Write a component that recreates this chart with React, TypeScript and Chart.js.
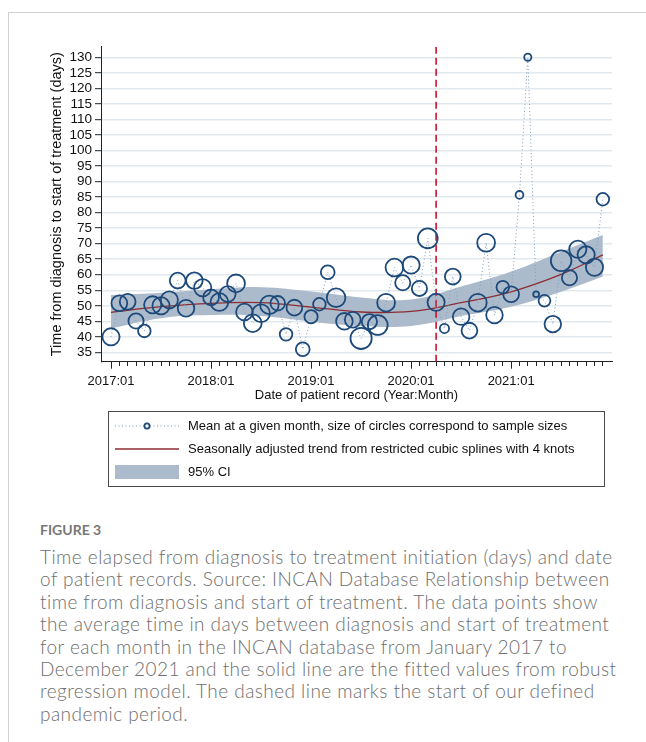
import React, { useEffect, useRef } from 'react';
import { Chart, registerables } from 'chart.js';
Chart.register(...registerables);

// Monthly means (days), Jan 2017 .. Dec 2021, index 0..59
const meanDays = [
  40.0, 50.8, 51.3, 45.1, 41.9, 50.3, 50.0, 51.9, 58.1, 49.2,
  58.1, 55.8, 52.7, 51.2, 53.8, 57.2, 48.0, 44.4, 47.6, 50.3,
  50.8, 40.8, 49.4, 36.0, 46.5, 50.5, 60.8, 52.6, 45.0, 45.5,
  39.5, 44.9, 43.8, 51.0, 62.3, 57.4, 63.1, 55.6, 71.7, 51.1,
  42.7, 59.4, 46.5, 42.0, 51.0, 70.3, 47.0, 56.0, 53.7, 85.7,
  130.0, 53.7, 51.6, 44.1, 64.5, 59.0, 68.2, 66.4, 62.4, 84.3,
];
// Relative circle size (sample size)
const sampleSize = [
  9.0, 8.3, 8.3, 8.0, 6.7, 9.0, 9.0, 9.0, 8.3, 8.7,
  8.7, 9.0, 8.3, 9.3, 8.3, 9.3, 8.7, 9.3, 9.3, 9.7,
  7.7, 6.7, 8.3, 7.3, 7.0, 6.7, 7.3, 9.7, 8.7, 8.3,
  11.0, 8.0, 10.3, 9.3, 9.3, 8.0, 9.0, 8.0, 10.3, 9.0,
  5.0, 8.3, 8.7, 8.3, 9.3, 9.3, 8.7, 6.7, 8.3, 4.3,
  4.0, 3.3, 6.3, 8.7, 10.7, 8.0, 9.0, 9.0, 9.0, 6.7,
];
const trendMonths = [0, 6, 12, 18, 24, 30, 36, 42, 48, 54, 59];
const trendDays = [47.9, 49.7, 50.8, 51.0, 49.6, 48.0, 48.2, 51.0, 54.5, 60.1, 66.4];
const ciUpper = [53.5, 54.2, 55.3, 56.0, 54.6, 52.7, 52.0, 56.2, 61.0, 67.4, 72.8];
const ciLower = [42.7, 46.0, 47.0, 46.7, 44.9, 43.5, 43.5, 46.7, 49.7, 54.5, 59.4];
const pandemicStartMonth = 39;
const majorTickMonths = [0, 12, 24, 36, 48];
const majorTickLabels = ['2017:01', '2018:01', '2019:01', '2020:01', '2021:01'];
const yTickValues = [35, 40, 45, 50, 55, 60, 65, 70, 75, 80, 85, 90, 95, 100, 105, 110, 115, 120, 125, 130];

const FONT = '"Liberation Sans", Arial, sans-serif';
const NAVY = '#1d4a7a';
const DOT = '#7f9dbf';
const MAROON = '#8c2d33';
const BAND = 'rgb(172,187,203)';
const RED = '#c8102e';
const Y_MIN = 32;
const Y_MAX = 133.4;

export default function App() {
  const ref = useRef<HTMLCanvasElement>(null);
  useEffect(() => {
    if (!ref.current) return;
    const chart = new Chart(ref.current, {
      type: 'line',
      data: {
        datasets: [
          {
            label: 'ci upper',
            data: trendMonths.map((m, i) => ({ x: m, y: ciUpper[i] })),
            borderWidth: 0, borderColor: 'rgba(0,0,0,0)', pointRadius: 0,
            fill: '+1', backgroundColor: BAND, tension: 0.4, order: 10,
            xAxisID: 'x', yAxisID: 'y',
          },
          {
            label: 'ci lower',
            data: trendMonths.map((m, i) => ({ x: m, y: ciLower[i] })),
            borderWidth: 0, borderColor: 'rgba(0,0,0,0)', pointRadius: 0,
            fill: false, tension: 0.4, order: 10,
            xAxisID: 'x', yAxisID: 'y',
          },
          {
            label: 'trend',
            data: trendMonths.map((m, i) => ({ x: m, y: trendDays[i] })),
            borderWidth: 1.3, borderColor: MAROON, pointRadius: 0,
            fill: false, tension: 0.4, order: 4,
            xAxisID: 'x', yAxisID: 'y',
          },
          {
            label: 'pandemic',
            data: [{ x: pandemicStartMonth, y: Y_MIN }, { x: pandemicStartMonth, y: Y_MAX }],
            borderWidth: 1.6, borderColor: RED, borderDash: [7, 4], pointRadius: 0,
            fill: false, order: 3,
            xAxisID: 'x', yAxisID: 'y',
          },
          {
            label: 'means',
            data: meanDays.map((v, i) => ({ x: i, y: v })),
            borderWidth: 1, borderColor: DOT, borderDash: [1, 2.5],
            pointRadius: sampleSize.map((s) => s - 0.4),
            pointBorderColor: NAVY, pointBorderWidth: 1.8,
            pointBackgroundColor: 'rgba(0,0,0,0)',
            fill: false, tension: 0, order: 1,
            xAxisID: 'x', yAxisID: 'y',
          },
        ],
      },
      options: {
        animation: false,
        responsive: false,
        layout: { padding: { top: 46.7, left: 44, right: 34, bottom: 0 } },
        plugins: { legend: { display: false }, tooltip: { enabled: false }, title: { display: false } },
        scales: {
          x: {
            type: 'linear', position: 'bottom', min: -1.2, max: 60.1,
            afterBuildTicks: (s: any) => { s.ticks = majorTickMonths.map((v) => ({ value: v })); },
            afterFit: (s: any) => { s.height = 38.3; },
            ticks: {
              callback: (v: any) => { const k = majorTickMonths.indexOf(Number(v)); return k >= 0 ? majorTickLabels[k] : ''; },
              font: { family: FONT, size: 13 }, color: '#111', padding: 5, maxRotation: 0, autoSkip: false,
            },
            grid: { drawOnChartArea: false, tickLength: 7, tickColor: '#222', tickWidth: 1 },
            border: { color: '#222', width: 1 },
          },
          xMinor: {
            type: 'linear', axis: 'x', position: { y: Y_MIN }, min: -1.2, max: 60.1,
            afterBuildTicks: (s: any) => { s.ticks = meanDays.map((_, i) => ({ value: i })); },
            ticks: { display: false },
            grid: { drawOnChartArea: false, tickLength: 4, tickColor: '#222', tickWidth: 1 },
            border: { display: false },
          },
          y: {
            type: 'linear', min: Y_MIN, max: Y_MAX,
            afterBuildTicks: (s: any) => { s.ticks = yTickValues.map((v) => ({ value: v })); },
            afterFit: (s: any) => { s.width = 57; },
            ticks: { font: { family: FONT, size: 13.5 }, color: '#111', padding: 3, autoSkip: false },
            grid: { color: '#e1e9ee', lineWidth: 1.4, tickLength: 6, tickColor: '#222', tickWidth: 1 },
            border: { color: '#222', width: 1 },
            title: {
              display: true, text: 'Time from diagnosis to start of treatment (days)',
              font: { family: FONT, size: 14.5 }, color: '#111', padding: { top: 4, bottom: 0 },
            },
          },
        } as any,
      },
    } as any);
    return () => chart.destroy();
  }, []);

  const legendRow = (top: number): React.CSSProperties => ({
    position: 'absolute', left: 0, top, height: 16, width: '100%',
  });
  const legendText: React.CSSProperties = {
    position: 'absolute', left: 79, top: 0, lineHeight: '16px', fontSize: 13, fontFamily: FONT, color: '#111', whiteSpace: 'nowrap',
  };

  return (
    <div style={{ position: 'relative', width: 646, height: 742, overflow: 'hidden', background: '#fff' }}>
      <style>{'body{margin:0}'}</style>
      <div style={{ position: 'absolute', left: 8, top: 12, right: -2, bottom: -2, borderTop: '1px solid #d0d0d0', borderLeft: '1px solid #d0d0d0' }} />
      <canvas ref={ref} width={646} height={400} style={{ position: 'absolute', left: 0, top: 0, width: 646, height: 400 }} />
      <div style={{ position: 'absolute', left: 101, width: 511, top: 387, textAlign: 'center', fontSize: 13, lineHeight: '16px', fontFamily: FONT, color: '#111' }}>
        Date of patient record (Year:Month)
      </div>
      <div style={{ position: 'absolute', left: 108, top: 411, width: 497, height: 76, border: '1px solid #4a4a4a', boxSizing: 'border-box' }}>
        <div style={legendRow(6)}>
          <svg width={64} height={16} style={{ position: 'absolute', left: 6, top: 0 }}>
            <line x1={0} y1={8} x2={64} y2={8} stroke={DOT} strokeWidth={1} strokeDasharray="1 2.5" />
            <circle cx={32} cy={8} r={2.6} stroke={NAVY} strokeWidth={1.8} fill="#fff" />
          </svg>
          <span style={legendText}>Mean at a given month, size of circles correspond to sample sizes</span>
        </div>
        <div style={legendRow(29)}>
          <svg width={64} height={16} style={{ position: 'absolute', left: 6, top: 0 }}>
            <line x1={0} y1={8} x2={64} y2={8} stroke={MAROON} strokeWidth={1.3} />
          </svg>
          <span style={legendText}>Seasonally adjusted trend from restricted cubic splines with 4 knots</span>
        </div>
        <div style={legendRow(52)}>
          <svg width={64} height={16} style={{ position: 'absolute', left: 6, top: 0 }}>
            <rect x={0} y={1} width={64} height={14} fill={BAND} />
          </svg>
          <span style={legendText}>95% CI</span>
        </div>
      </div>
      <div style={{ position: 'absolute', left: 40, top: 521, fontFamily: 'Lato, sans-serif', fontWeight: 700, fontSize: 14, lineHeight: '18px', color: '#777' }}>
        FIGURE 3
      </div>
      <div style={{ position: 'absolute', left: 40, top: 546, width: 600, fontFamily: 'Lato, sans-serif', fontWeight: 300, fontSize: 19, letterSpacing: 0.45, lineHeight: '22.4px', color: '#6e6e6e', whiteSpace: 'nowrap' }}>
        Time elapsed from diagnosis to treatment initiation (days) and date<br />
        of patient records. Source: INCAN Database Relationship between<br />
        time from diagnosis and start of treatment. The data points show<br />
        the average time in days between diagnosis and start of treatment<br />
        for each month in the INCAN database from January 2017 to<br />
        December 2021 and the solid line are the fitted values from robust<br />
        regression model. The dashed line marks the start of our defined<br />
        pandemic period.
      </div>
    </div>
  );
}
